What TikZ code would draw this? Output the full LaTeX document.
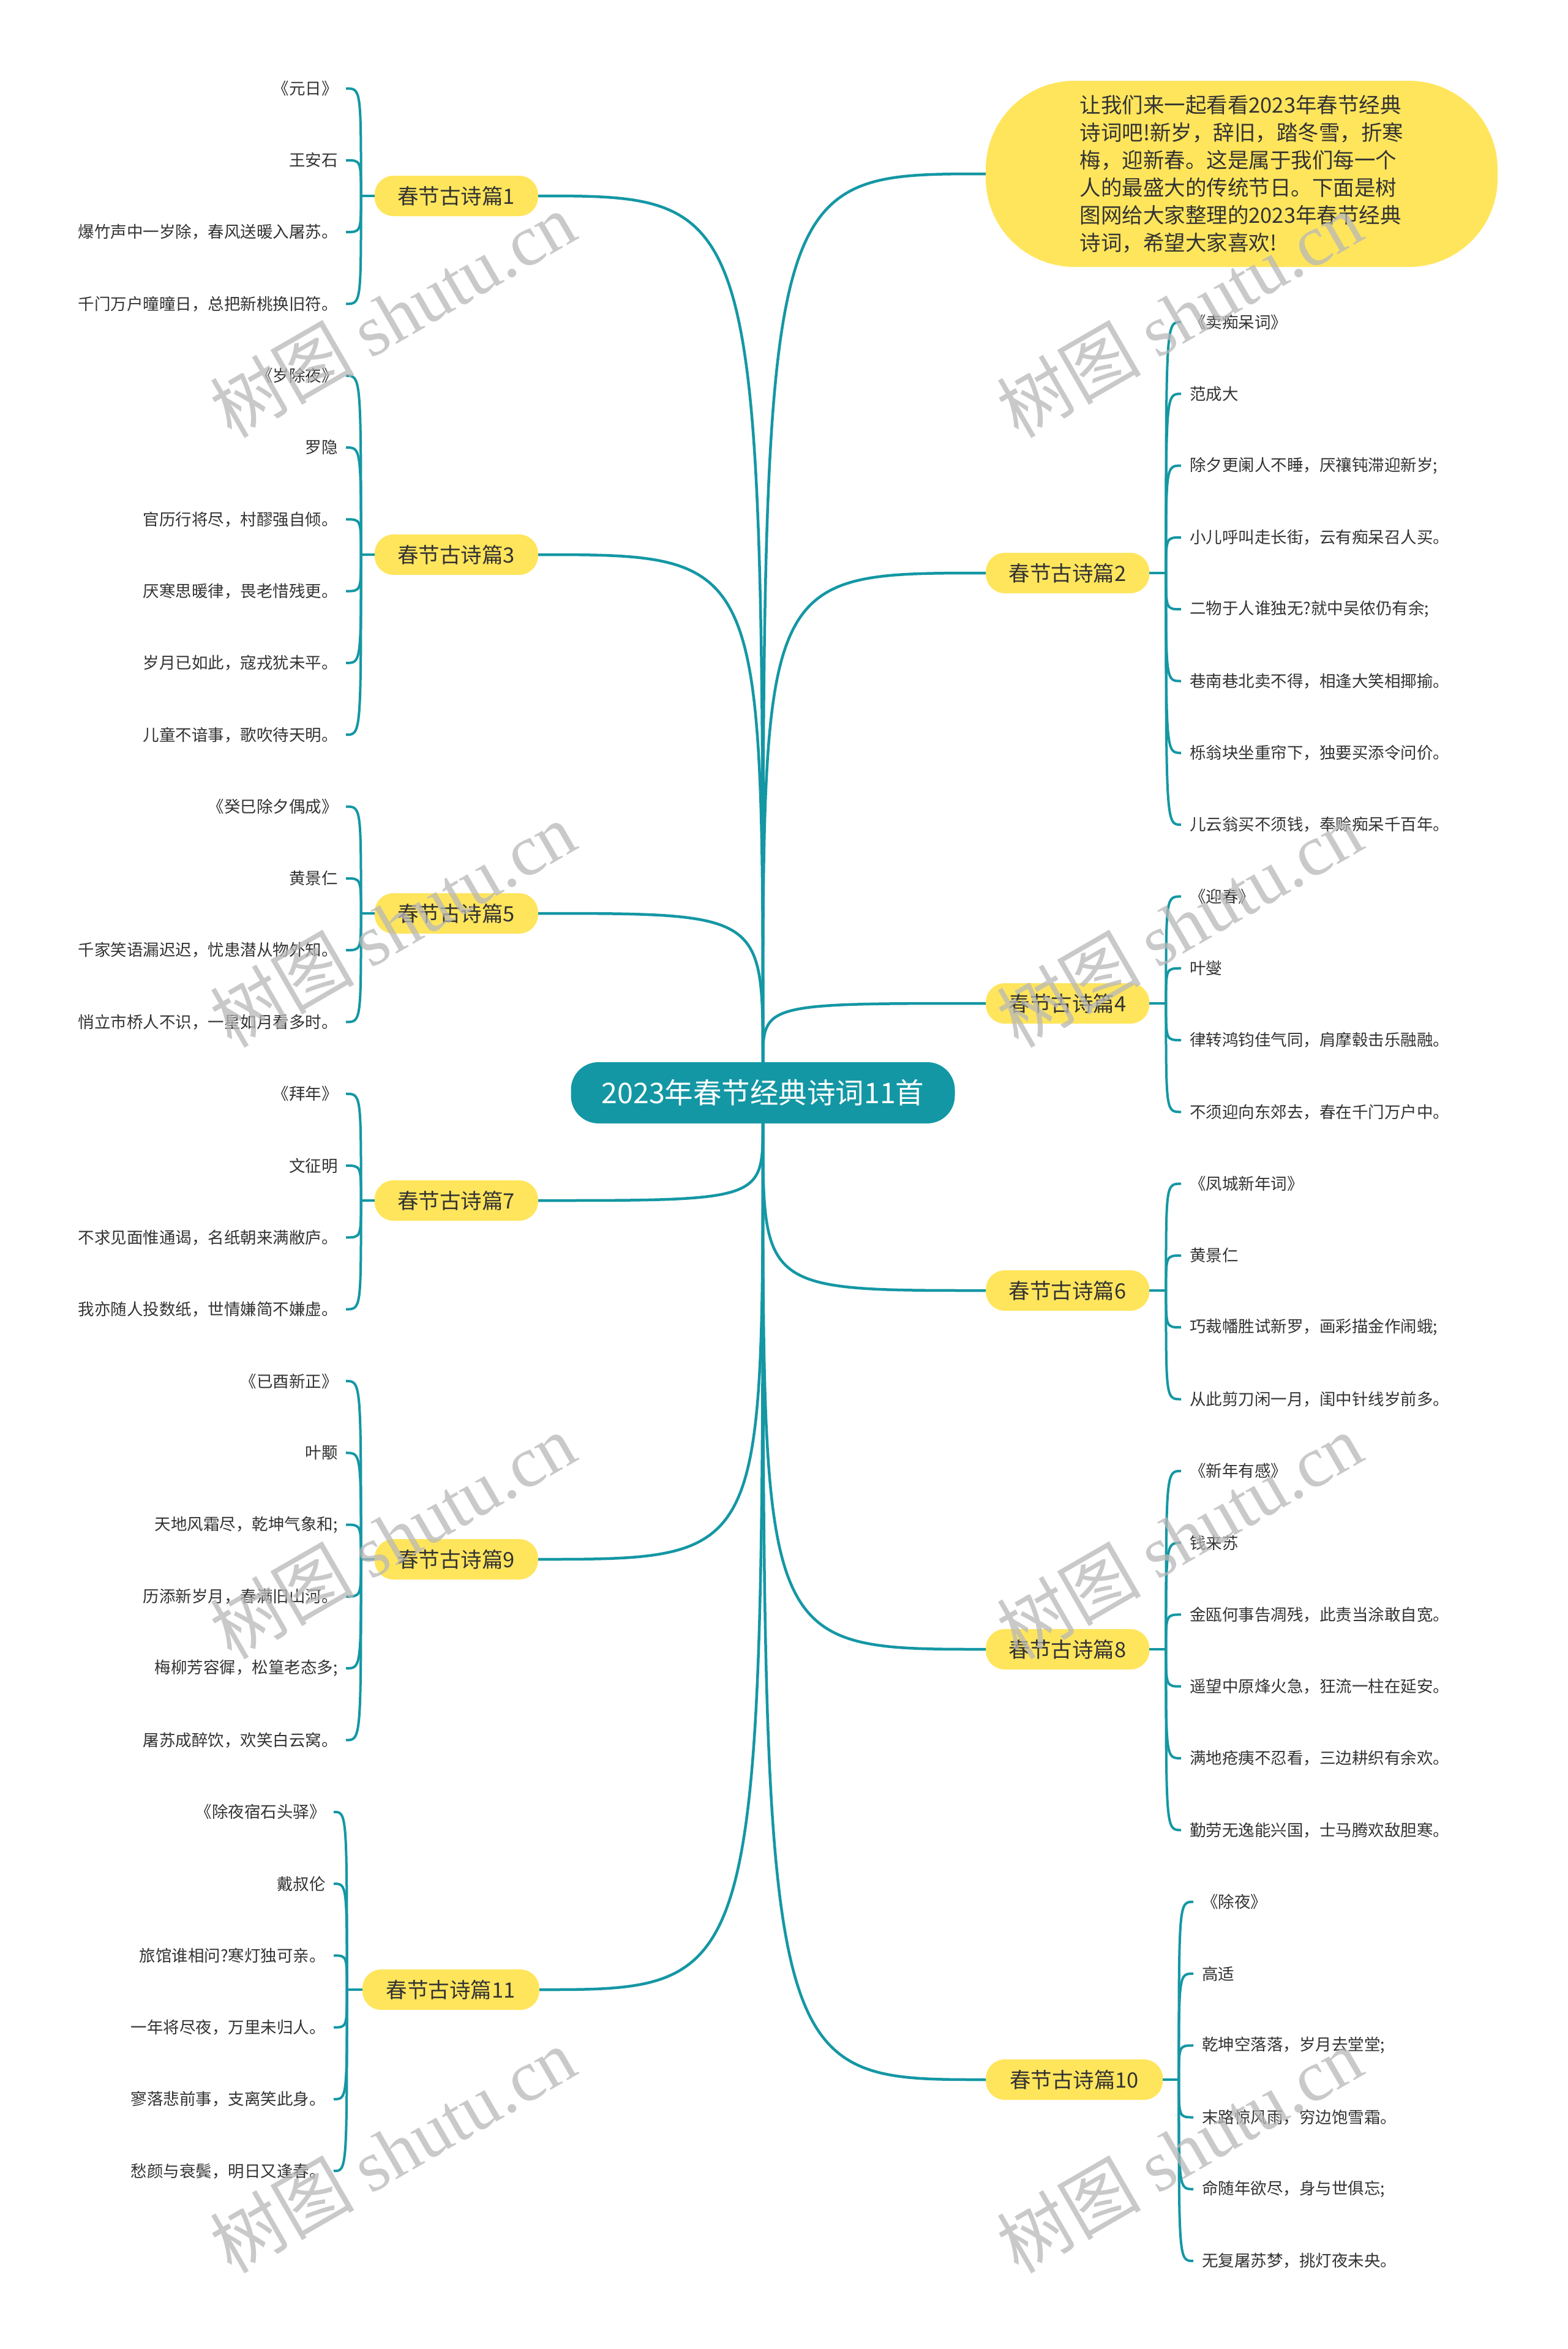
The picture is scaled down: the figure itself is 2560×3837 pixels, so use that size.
\documentclass[tikz,border=0pt]{standalone}
\usepackage{fontspec}
\setmainfont{Noto Sans CJK SC}
\newfontfamily\wmlatin{Liberation Serif}
\definecolor{tealc}{HTML}{1497A4}
\definecolor{yelc}{HTML}{FFE55C}
\definecolor{txtc}{HTML}{333333}
\definecolor{wmc}{HTML}{B8B8B8}
\begin{document}
\begin{tikzpicture}[x=1pt,y=-1pt,
  link/.style={draw=tealc, line width=4.5pt},
  sub/.style={draw=tealc, line width=4pt},
  mainnode/.style={fill=yelc, rounded corners=31pt, minimum height=66pt, minimum width=267pt, inner sep=0pt, font=\fontsize{34.5}{40}\selectfont, text=txtc},
  widenode/.style={mainnode, minimum width=289pt},
  lleaf/.style={anchor=east, inner xsep=13pt, inner ysep=0pt, font=\fontsize{26.5}{30}\selectfont, text=txtc},
  rleaf/.style={anchor=west, inner xsep=14pt, inner ysep=0pt, font=\fontsize{26.5}{30}\selectfont, text=txtc},
  wmark/.style={rotate=30, text=wmc, opacity=0.75, font=\fontsize{118}{120}\selectfont}
]
\useasboundingbox (0,0) rectangle (2560,3837);
\fill[white] (0,0) rectangle (2560,3837);

% center
\node[fill=tealc, text=white, rounded corners=45pt, minimum width=627pt, minimum height=100pt, inner sep=0pt, font=\fontsize{46.5}{52}\selectfont] (C) at (1246,1785) {2023年春节经典诗词11首};

% intro
\node[fill=yelc, rounded corners=145pt, minimum width=836pt, minimum height=304pt, inner sep=0pt, align=left, font=\fontsize{34.5}{45}\selectfont, text=txtc] (I) at (2028,284) {让我们来一起看看2023年春节经典\\诗词吧!新岁，辞旧，踏冬雪，折寒\\梅，迎新春。这是属于我们每一个\\人的最盛大的传统节日。下面是树\\图网给大家整理的2023年春节经典\\诗词，希望大家喜欢!};

% main nodes left
\node[mainnode, anchor=east] (P1) at (879,320) {春节古诗篇1};
\node[mainnode, anchor=east] (P3) at (879,906) {春节古诗篇3};
\node[mainnode, anchor=east] (P5) at (879,1492) {春节古诗篇5};
\node[mainnode, anchor=east] (P7) at (879,1961) {春节古诗篇7};
\node[mainnode, anchor=east] (P9) at (879,2547) {春节古诗篇9};
\node[widenode, anchor=east] (P11) at (881,3250) {春节古诗篇11};
% main nodes right
\node[mainnode, anchor=west] (P2) at (1610,936) {春节古诗篇2};
\node[mainnode, anchor=west] (P4) at (1610,1639) {春节古诗篇4};
\node[mainnode, anchor=west] (P6) at (1610,2108) {春节古诗篇6};
\node[mainnode, anchor=west] (P8) at (1610,2694) {春节古诗篇8};
\node[widenode, anchor=west] (P10) at (1610,3397) {春节古诗篇10};

% center connectors
\foreach \n in {P1,P3,P5}{
  \draw[link] (C.north) .. controls (C.north |- \n.east) and (C.north |- \n.east) .. (\n.east);
}
\foreach \n in {P7,P9,P11}{
  \draw[link] (C.south) .. controls (C.south |- \n.east) and (C.south |- \n.east) .. (\n.east);
}
\foreach \n in {I,P2,P4}{
  \draw[link] (C.north) .. controls (C.north |- \n.west) and (C.north |- \n.west) .. (\n.west);
}
\foreach \n in {P6,P8,P10}{
  \draw[link] (C.south) .. controls (C.south |- \n.west) and (C.south |- \n.west) .. (\n.west);
}

% junctions
\path (P1.west) ++(-22,0) coordinate (j1);
\path (P3.west) ++(-22,0) coordinate (j3);
\path (P5.west) ++(-22,0) coordinate (j5);
\path (P7.west) ++(-22,0) coordinate (j7);
\path (P9.west) ++(-22,0) coordinate (j9);
\path (P11.west) ++(-25,0) coordinate (j11);
\path (P2.east) ++(27,0) coordinate (j2);
\path (P4.east) ++(27,0) coordinate (j4);
\path (P6.east) ++(27,0) coordinate (j6);
\path (P8.east) ++(27,0) coordinate (j8);
\path (P10.east) ++(26,0) coordinate (j10);
\foreach \n in {1,3,5,7,9,11}{\draw[sub] (P\n.west) -- (j\n);}
\foreach \n in {2,4,6,8,10}{\draw[sub] (P\n.east) -- (j\n);}

% left leaves
\foreach \t [count=\i from 0] in {《元日》,王安石,爆竹声中一岁除，春风送暖入屠苏。,千门万户曈曈日，总把新桃换旧符。}{
  \node[lleaf] (L\i) at (565,{144.5+117.3*\i}) {\t};
  \draw[sub] (j1) .. controls (j1 |- L\i.east) and (j1 |- L\i.east) .. (L\i.east);
}
\foreach \t [count=\i from 4] in {《岁除夜》,罗隐,官历行将尽，村醪强自倾。,厌寒思暖律，畏老惜残更。,岁月已如此，寇戎犹未平。,儿童不谙事，歌吹待天明。}{
  \node[lleaf] (L\i) at (565,{144.5+117.3*\i}) {\t};
  \draw[sub] (j3) .. controls (j3 |- L\i.east) and (j3 |- L\i.east) .. (L\i.east);
}
\foreach \t [count=\i from 10] in {《癸巳除夕偶成》,黄景仁,千家笑语漏迟迟，忧患潜从物外知。,悄立市桥人不识，一星如月看多时。}{
  \node[lleaf] (L\i) at (565,{144.5+117.3*\i}) {\t};
  \draw[sub] (j5) .. controls (j5 |- L\i.east) and (j5 |- L\i.east) .. (L\i.east);
}
\foreach \t [count=\i from 14] in {《拜年》,文征明,不求见面惟通谒，名纸朝来满敝庐。,我亦随人投数纸，世情嫌简不嫌虚。}{
  \node[lleaf] (L\i) at (565,{144.5+117.3*\i}) {\t};
  \draw[sub] (j7) .. controls (j7 |- L\i.east) and (j7 |- L\i.east) .. (L\i.east);
}
\foreach \t [count=\i from 18] in {《已酉新正》,叶颙,天地风霜尽，乾坤气象和;,历添新岁月，春满旧山河。,梅柳芳容徲，松篁老态多;,屠苏成醉饮，欢笑白云窝。}{
  \node[lleaf] (L\i) at (565,{144.5+117.3*\i}) {\t};
  \draw[sub] (j9) .. controls (j9 |- L\i.east) and (j9 |- L\i.east) .. (L\i.east);
}
\foreach \t [count=\i from 24] in {《除夜宿石头驿》,戴叔伦,旅馆谁相问?寒灯独可亲。,一年将尽夜，万里未归人。,寥落悲前事，支离笑此身。,愁颜与衰鬓，明日又逢春。}{
  \node[lleaf] (L\i) at (545,{144.5+117.3*\i}) {\t};
  \draw[sub] (j11) .. controls (j11 |- L\i.east) and (j11 |- L\i.east) .. (L\i.east);
}

% right leaves
\foreach \t [count=\i from 0] in {《卖痴呆词》,范成大,除夕更阑人不睡，厌禳钝滞迎新岁;,小儿呼叫走长街，云有痴呆召人买。,二物于人谁独无?就中吴侬仍有余;,巷南巷北卖不得，相逢大笑相揶揄。,栎翁块坐重帘下，独要买添令问价。,儿云翁买不须钱，奉赊痴呆千百年。}{
  \node[rleaf] (R\i) at (1929,{526+117.3*\i}) {\t};
  \draw[sub] (j2) .. controls (j2 |- R\i.west) and (j2 |- R\i.west) .. (R\i.west);
}
\foreach \t [count=\i from 8] in {《迎春》,叶燮,律转鸿钧佳气同，肩摩毂击乐融融。,不须迎向东郊去，春在千门万户中。}{
  \node[rleaf] (R\i) at (1929,{526+117.3*\i}) {\t};
  \draw[sub] (j4) .. controls (j4 |- R\i.west) and (j4 |- R\i.west) .. (R\i.west);
}
\foreach \t [count=\i from 12] in {《凤城新年词》,黄景仁,巧裁幡胜试新罗，画彩描金作闹蛾;,从此剪刀闲一月，闺中针线岁前多。}{
  \node[rleaf] (R\i) at (1929,{526+117.3*\i}) {\t};
  \draw[sub] (j6) .. controls (j6 |- R\i.west) and (j6 |- R\i.west) .. (R\i.west);
}
\foreach \t [count=\i from 16] in {《新年有感》,钱来苏,金瓯何事告凋残，此责当涂敢自宽。,遥望中原烽火急，狂流一柱在延安。,满地疮痍不忍看，三边耕织有余欢。,勤劳无逸能兴国，士马腾欢敌胆寒。}{
  \node[rleaf] (R\i) at (1929,{526+117.3*\i}) {\t};
  \draw[sub] (j8) .. controls (j8 |- R\i.west) and (j8 |- R\i.west) .. (R\i.west);
}
\foreach \t [count=\i from 22] in {《除夜》,高适,乾坤空落落，岁月去堂堂;,末路惊风雨，穷边饱雪霜。,命随年欲尽，身与世俱忘;,无复屠苏梦，挑灯夜未央。}{
  \node[rleaf] (R\i) at (1949,{526+117.3*\i}) {\t};
  \draw[sub] (j10) .. controls (j10 |- R\i.west) and (j10 |- R\i.west) .. (R\i.west);
}

% watermarks
\foreach \wx/\wy [count=\k] in {641/514,1926/514,641/1510,1926/1510,641/2509,1926/2509,641/3512,1926/3512}{
  \node[wmark] (W\k) at (\wx,\wy) {树图 {\wmlatin shutu.cn}};
}
\end{tikzpicture}
\end{document}
